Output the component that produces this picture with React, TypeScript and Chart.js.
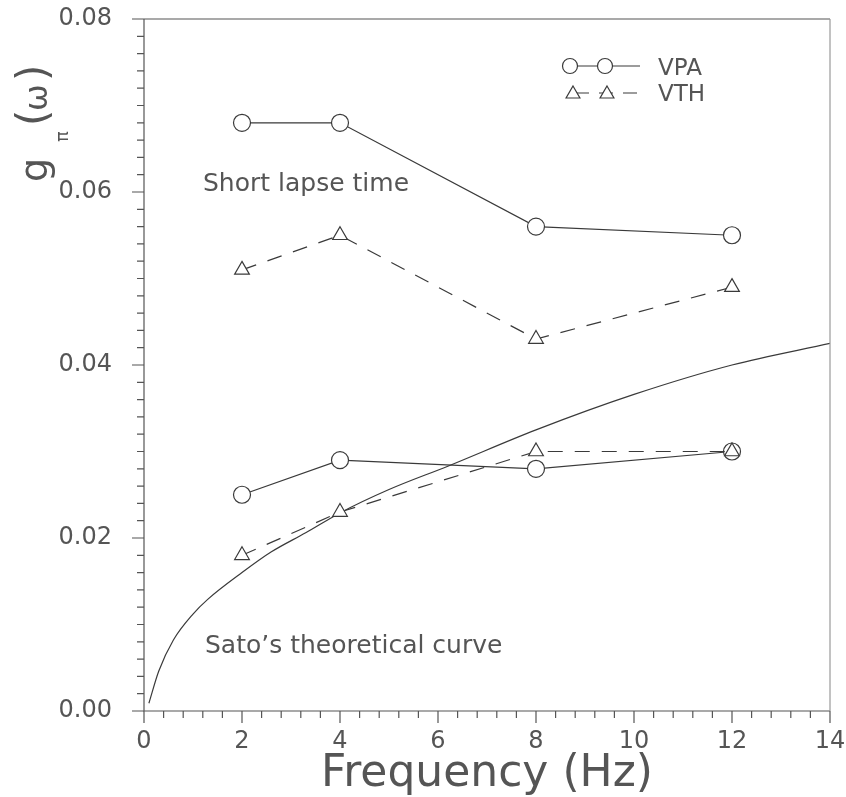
import React, { useEffect, useRef } from "react";
import { Chart, registerables } from "chart.js";

Chart.register(...registerables);

// ---- data ----
const freqs = [2, 4, 8, 12];
const vpaShort = [0.068, 0.068, 0.056, 0.055];
const vthShort = [0.051, 0.055, 0.043, 0.049];
const vpaLong = [0.025, 0.029, 0.028, 0.03];
const vthLong = [0.018, 0.023, 0.03, 0.03];
const satoFreq = [0.1, 0.3, 0.6, 1, 1.3, 2, 2.6, 3.3, 4, 5, 6.2, 8, 10, 12, 14];
const satoG = [0.0009, 0.0046, 0.0082, 0.0112, 0.0129, 0.016, 0.0184, 0.0206, 0.0229, 0.0256, 0.0283, 0.0325, 0.0366, 0.04, 0.0425];

const xMin = 0, xMax = 14, xMajor = 2, xMinor = 0.4;
const yMin = 0, yMax = 0.08, yMajor = 0.02, yMinor = 0.002;
const xTitle = "Frequency (Hz)";
const legendLabels = ["VPA", "VTH"];
const annotShort = "Short lapse time";
const annotSato = "Sato\u2019s theoretical curve";

const INK = "#3a3a3a";
const TEXT = "#555";
const FONT = "'DejaVu Sans', sans-serif";

const pts = (xs: number[], ys: number[]) => xs.map((x, i) => ({ x, y: ys[i] }));

const isMultiple = (v: number, step: number) => Math.abs(v / step - Math.round(v / step)) < 1e-6;

const framePlugin = {
  id: "frameTicks",
  afterDraw(chart: any) {
    const ctx = chart.ctx;
    const { left, right, top, bottom } = chart.chartArea;
    const xs = chart.scales.x;
    const ys = chart.scales.y;
    ctx.save();
    ctx.lineWidth = 1.2;
    ctx.strokeStyle = "#555";
    ctx.beginPath();
    ctx.moveTo(left, top);
    ctx.lineTo(left, bottom);
    ctx.lineTo(right, bottom);
    ctx.moveTo(left, top);
    ctx.lineTo(right, top);
    ctx.stroke();
    ctx.strokeStyle = "#999";
    ctx.beginPath();
    ctx.moveTo(right, top);
    ctx.lineTo(right, bottom);
    ctx.stroke();
    ctx.strokeStyle = "#555";
    ctx.beginPath();
    const nx = Math.round((xMax - xMin) / xMinor);
    for (let i = 0; i <= nx; i++) {
      const v = xMin + i * xMinor;
      const px = xs.getPixelForValue(v);
      const len = isMultiple(v, xMajor) ? 12 : 7;
      ctx.moveTo(px, bottom);
      ctx.lineTo(px, bottom + len);
    }
    const ny = Math.round((yMax - yMin) / yMinor);
    for (let i = 0; i <= ny; i++) {
      const v = yMin + i * yMinor;
      const py = ys.getPixelForValue(v);
      const len = isMultiple(v, yMajor) ? 12 : 7;
      ctx.moveTo(left, py);
      ctx.lineTo(left - len, py);
    }
    ctx.stroke();

    // y axis title: g_π (ω)
    ctx.fillStyle = TEXT;
    ctx.translate(47, 182);
    ctx.rotate(-Math.PI / 2);
    ctx.textAlign = "left";
    ctx.textBaseline = "alphabetic";
    ctx.font = `38px ${FONT}`;
    ctx.fillText("g", 0, 0);
    ctx.font = `18px ${FONT}`;
    ctx.fillText("\u03c0", 40, 21);
    ctx.font = `42px ${FONT}`;
    ctx.fillText("(", 56, 0);
    ctx.font = `32px ${FONT}`;
    ctx.fillText("\u03c9", 71, 0);
    ctx.font = `42px ${FONT}`;
    ctx.fillText(")", 101, 0);
    ctx.restore();

    // annotations
    ctx.save();
    ctx.fillStyle = TEXT;
    ctx.font = `25px ${FONT}`;
    ctx.textBaseline = "alphabetic";
    ctx.fillText(annotShort, 203, 191);
    ctx.fillText(annotSato, 205, 653);

    // legend
    ctx.strokeStyle = INK;
    ctx.lineWidth = 1.2;
    ctx.beginPath();
    ctx.moveTo(570, 66);
    ctx.lineTo(640, 66);
    ctx.stroke();
    for (const cx of [570, 605]) {
      ctx.beginPath();
      ctx.arc(cx, 66, 7.5, 0, Math.PI * 2);
      ctx.fillStyle = "#fff";
      ctx.fill();
      ctx.stroke();
    }
    ctx.setLineDash([14, 10]);
    ctx.lineDashOffset = -2;
    ctx.beginPath();
    ctx.moveTo(573, 93);
    ctx.lineTo(640, 93);
    ctx.stroke();
    ctx.setLineDash([]);
    for (const cx of [573, 607]) {
      const r = 8;
      ctx.beginPath();
      for (let k = 0; k < 3; k++) {
        const a = -Math.PI / 2 + k * (2 * Math.PI / 3);
        const X = cx + Math.cos(a) * r;
        const Y = 93 + 1 + Math.sin(a) * r;
        if (k === 0) ctx.moveTo(X, Y);
        else ctx.lineTo(X, Y);
      }
      ctx.closePath();
      ctx.fillStyle = "#fff";
      ctx.fill();
      ctx.stroke();
    }
    ctx.fillStyle = TEXT;
    ctx.font = `23px ${FONT}`;
    ctx.fillText(legendLabels[0], 658, 75);
    ctx.fillText(legendLabels[1], 658, 101);
    ctx.restore();
  },
};

export default function App() {
  const ref = useRef<HTMLCanvasElement | null>(null);
  useEffect(() => {
    document.body.style.margin = "0";
    const canvas = ref.current!;
    const lineCommon = {
      showLine: true,
      borderColor: INK,
      borderWidth: 1.2,
      pointBorderColor: INK,
      pointBackgroundColor: "#fff",
      pointBorderWidth: 1.2,
      tension: 0,
    };
    const chart = new Chart(canvas, {
      type: "scatter",
      data: {
        datasets: [
          { ...lineCommon, label: "VPA short", data: pts(freqs, vpaShort), pointStyle: "circle", pointRadius: 8.5 },
          { ...lineCommon, label: "VTH short", data: pts(freqs, vthShort), pointStyle: "triangle", pointRadius: 8.5, borderDash: [15, 12] },
          { ...lineCommon, label: "VTH long", data: pts(freqs, vthLong), pointStyle: "triangle", pointRadius: 8.5, borderDash: [15, 12] },
          { ...lineCommon, label: "VPA long", data: pts(freqs, vpaLong), pointStyle: "circle", pointRadius: 8.5 },
          {
            label: "Sato",
            data: pts(satoFreq, satoG),
            showLine: true,
            borderColor: INK,
            borderWidth: 1.2,
            pointRadius: 0,
            cubicInterpolationMode: "monotone",
          },
        ],
      },
      options: {
        animation: false,
        responsive: false,
        maintainAspectRatio: false,
        layout: { autoPadding: false, padding: { top: 19, right: 16, left: 0, bottom: 0 } },
        plugins: { legend: { display: false }, tooltip: { enabled: false } },
        scales: {
          x: {
            type: "linear",
            min: xMin,
            max: xMax,
            grid: { display: true, drawOnChartArea: false, drawTicks: true, tickLength: 12, tickColor: "rgba(0,0,0,0)", color: "rgba(0,0,0,0)" },
            border: { display: false },
            ticks: {
              stepSize: xMajor,
              padding: 4,
              color: TEXT,
              font: { family: "DejaVu Sans", size: 24 },
              maxRotation: 0,
              autoSkip: false,
            },
            title: {
              display: true,
              text: xTitle,
              color: TEXT,
              font: { family: "DejaVu Sans", size: 44, lineHeight: 1.0 },
              padding: { top: 0, bottom: 0 },
            },
            afterFit: (s: any) => {
              s.height = 86;
              s.paddingLeft = 0;
              s.paddingRight = 0;
            },
          },
          y: {
            type: "linear",
            min: yMin,
            max: yMax,
            grid: { display: true, drawOnChartArea: false, drawTicks: true, tickLength: 12, tickColor: "rgba(0,0,0,0)", color: "rgba(0,0,0,0)" },
            border: { display: false },
            ticks: {
              stepSize: yMajor,
              padding: 20,
              color: TEXT,
              font: { family: "DejaVu Sans", size: 24 },
              callback: (v: any) => Number(v).toFixed(2),
            },
            afterFit: (s: any) => {
              s.width = 144;
              s.paddingTop = 0;
              s.paddingBottom = 0;
            },
          },
        },
      },
      plugins: [framePlugin],
    });
    return () => chart.destroy();
  }, []);
  return <canvas ref={ref} width={846} height={797} style={{ display: "block" }} />;
}
